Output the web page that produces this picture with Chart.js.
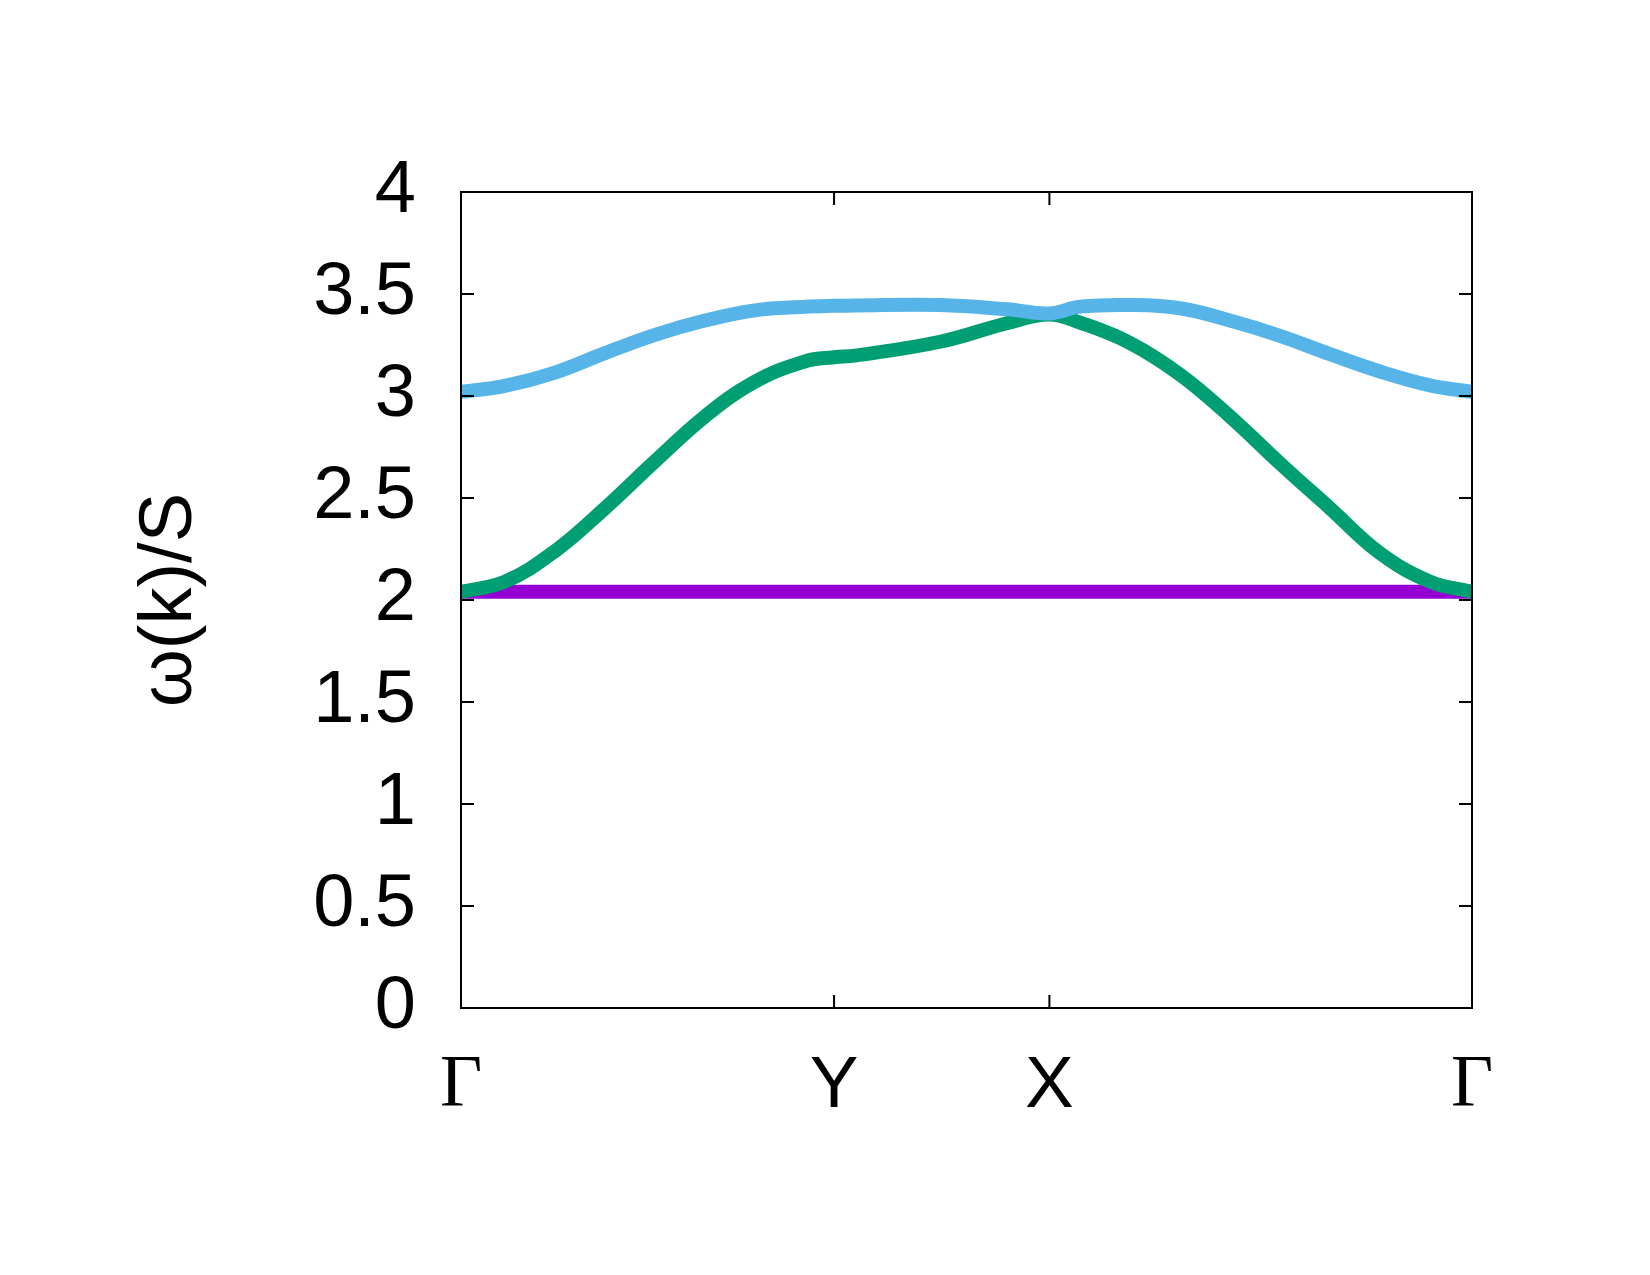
<!DOCTYPE html>
<html>
<head>
<meta charset="utf-8">
<script src="https://cdn.jsdelivr.net/npm/chart.js@4"></script>
<style>
body { margin: 0; background: #fff; }
#wrap { width: 1650px; height: 1275px; }
</style>
</head>
<body>
<div id="wrap"><canvas id="chart" width="1650" height="1275"></canvas></div>
<script>
// k path positions (fraction of path length) for the high symmetry points
var kPos = [0, 0.369, 0.582, 1];
var kLabels = ["Γ", "Y", "X", "Γ"];

// y ticks
var yTicks = [0, 0.5, 1, 1.5, 2, 2.5, 3, 3.5, 4];

// sampled k along the path
var kGrid = [0, 0.0435, 0.093, 0.1424, 0.1919, 0.2413, 0.2908, 0.3403, 0.369, 0.3897,
    0.4738, 0.54, 0.582, 0.6123, 0.6617, 0.7112, 0.7606, 0.8101, 0.8595, 0.909, 0.9585, 1];

// band energies w(k)/S
var band1 = [2.04, 2.04, 2.04, 2.04, 2.04, 2.04, 2.04, 2.04, 2.04, 2.04,
    2.04, 2.04, 2.04, 2.04, 2.04, 2.04, 2.04, 2.04, 2.04, 2.04, 2.04, 2.04];
var band2 = [2.04, 2.09, 2.24, 2.45, 2.68, 2.90, 3.07, 3.17, 3.19, 3.198,
    3.266, 3.357, 3.40, 3.36, 3.26, 3.105, 2.90, 2.67, 2.45, 2.23, 2.09, 2.04];
var band3 = [3.02, 3.05, 3.115, 3.21, 3.30, 3.37, 3.42, 3.437, 3.442, 3.444,
    3.446, 3.425, 3.405, 3.438, 3.446, 3.43, 3.37, 3.295, 3.205, 3.12, 3.052, 3.02];

var sans = "'Liberation Sans', Arial, Helvetica, sans-serif";
var serif = "'Liberation Serif', 'Times New Roman', serif";

function toPoints(vals){
    var pts = new Array();
    kGrid.forEach(function(k, i){
        pts.push({x: k, y: vals[i]});
    });
    return pts;
}

// frame + inward ticks on all four sides, like gnuplot
var framePlugin = {
    id: "frame",
    afterDatasetsDraw: function(chart){
        var ctx = chart.ctx;
        var a = chart.chartArea;
        var xs = chart.scales.x;
        var ys = chart.scales.y;
        var tl = 13;
        ctx.save();
        ctx.strokeStyle = "#000";
        ctx.lineWidth = 2;
        ctx.beginPath();
        yTicks.forEach(function(v){
            var py = ys.getPixelForValue(v);
            ctx.moveTo(a.left, py); ctx.lineTo(a.left + tl, py);
            ctx.moveTo(a.right, py); ctx.lineTo(a.right - tl, py);
        });
        kPos.forEach(function(v){
            var px = xs.getPixelForValue(v);
            ctx.moveTo(px, a.bottom); ctx.lineTo(px, a.bottom - tl);
            ctx.moveTo(px, a.top); ctx.lineTo(px, a.top + tl);
        });
        ctx.stroke();
        ctx.strokeRect(a.left, a.top, a.right - a.left, a.bottom - a.top);
        ctx.restore();
    }
};

function drawchart(){
    var ctx = document.getElementById("chart").getContext("2d");

    var data = {
        datasets: [
            {data: toPoints(band1), borderColor: "#9400d3", order: 3},
            {data: toPoints(band2), borderColor: "#009e73", order: 2},
            {data: toPoints(band3), borderColor: "#56b4e9", order: 1}
        ]
    };

    new Chart(ctx, {
        type: "line",
        data: data,
        options: {
            responsive: false,
            animation: false,
            events: [],
            layout: {padding: {left: 0, top: 192, right: 178, bottom: 0}},
            elements: {
                point: {radius: 0},
                line: {borderWidth: 14, tension: 0.4, fill: false}
            },
            plugins: {legend: {display: false}, tooltip: {enabled: false}},
            scales: {
                x: {
                    type: "linear",
                    min: 0,
                    max: 1,
                    grid: {display: false},
                    border: {display: false},
                    afterBuildTicks: function(scale){
                        scale.ticks = kPos.map(function(v){ return {value: v}; });
                    },
                    afterFit: function(scale){ scale.height = 267; },
                    ticks: {
                        autoSkip: false,
                        maxRotation: 0,
                        padding: 27,
                        color: "#000",
                        callback: function(v, i){ return kLabels[i]; },
                        font: function(c){
                            return {family: kLabels[c.index] == "Γ" ? serif : sans, size: 73};
                        }
                    }
                },
                y: {
                    type: "linear",
                    min: 0,
                    max: 4,
                    grid: {display: false},
                    border: {display: false},
                    afterFit: function(scale){ scale.width = 461; },
                    ticks: {
                        stepSize: 0.5,
                        padding: 37,
                        color: "#000",
                        font: {family: sans, size: 74},
                        callback: function(v){ return String(v); }
                    },
                    title: {
                        display: true,
                        text: "ω(k)/S",
                        color: "#000",
                        font: {family: sans, size: 74},
                        padding: {top: 126, bottom: 0}
                    }
                }
            }
        },
        plugins: [framePlugin]
    });
}

window.onload = function(){
    drawchart();
};
</script>
</body>
</html>
